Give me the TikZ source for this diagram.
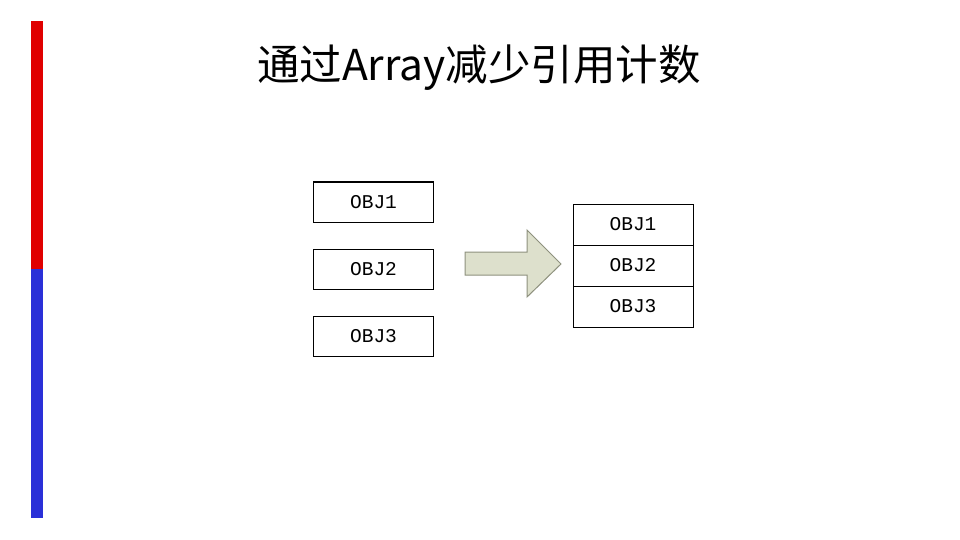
\documentclass[tikz,border=0pt]{standalone}
\usepackage{fontspec}
\newfontfamily\cjk{Noto Sans CJK SC}
\newfontfamily\objfont{Liberation Mono}
\definecolor{barred}{HTML}{E00000}
\definecolor{barblue}{HTML}{2A30D8}
\definecolor{arrowfill}{HTML}{DDE0CC}
\definecolor{arrowline}{HTML}{8E917E}
\begin{document}
\begin{tikzpicture}
[x=1pt,y=-1pt,
  objdecorate/.style={shape=rectangle,draw,line width=1pt,inner sep=0pt,%
    minimum width=120pt,font=\objfont\fontsize{19.5}{19.5}\selectfont},
  arrowdecorate/.style={fill=arrowfill,draw=arrowline,line width=1pt,line join=miter}]
\useasboundingbox (0,0) rectangle (960,540);
%% side bar
\fill[barred] (31,21) rectangle (43,269);
\fill[barblue] (31,269) rectangle (43,518);
%% title
\node (title) at (479,68) [font=\cjk\fontsize{42.5}{42.5}\selectfont] {通过Array减少引用计数};
%% separate objects
\foreach \nodename/\y in {1/202, 2/269, 3/336.5} {
  \node (obj\nodename) at (373.5,\y) [objdecorate,minimum height=40pt] {OBJ\nodename};
}
%% array of objects
\foreach \nodename/\y in {1/224.5, 2/265.5, 3/306.5} {
  \node (arr\nodename) at (633,\y) [objdecorate,minimum height=41pt] {OBJ\nodename};
}
%% block arrow
\draw[arrowdecorate] (465,252) -- (527,252) -- (527,230) -- (561,264)
  -- (527,297) -- (527,275) -- (465,275) -- cycle;
\end{tikzpicture}
\end{document}
